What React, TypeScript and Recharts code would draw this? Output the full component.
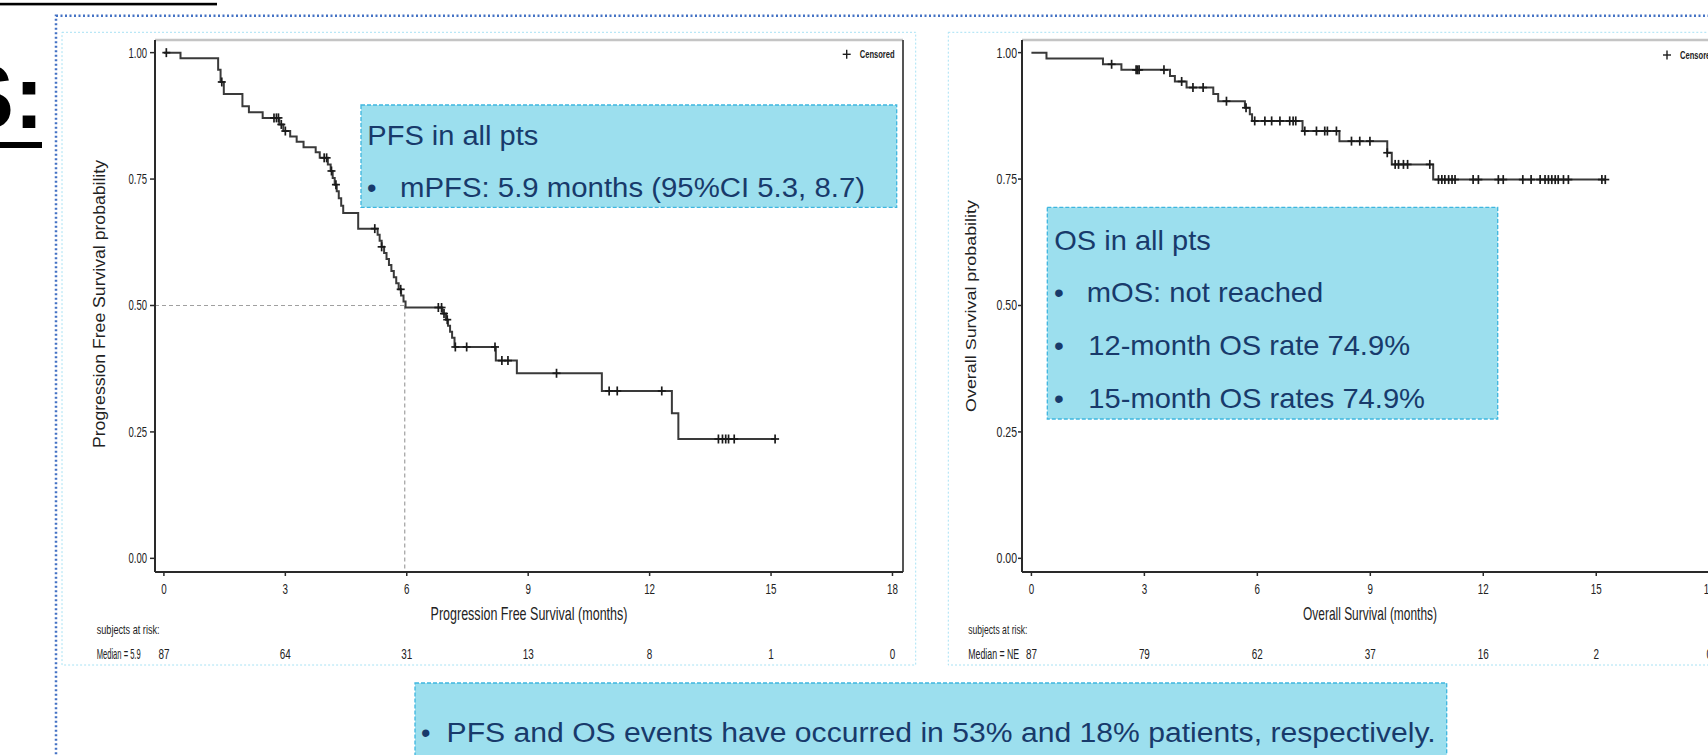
import React from 'react';
import { ComposedChart, Line, Scatter, XAxis, YAxis, ReferenceLine } from 'recharts';

type Step = [number, number];

const monthTicks = [0, 3, 6, 9, 12, 15, 18];
const survTicks = [0, 0.25, 0.5, 0.75, 1];

// Progression free survival: [month, survival probability after the step]
const pfsSteps: Step[] = [
  [0, 1.0], [0.41, 0.989], [1.34, 0.966], [1.4, 0.942], [1.48, 0.918], [1.94, 0.894],
  [2.1, 0.882], [2.44, 0.871], [2.85, 0.858], [2.95, 0.845], [3.12, 0.834], [3.28, 0.824],
  [3.45, 0.813], [3.75, 0.803], [3.85, 0.792], [4.05, 0.779], [4.12, 0.766], [4.17, 0.752],
  [4.22, 0.739], [4.27, 0.726], [4.32, 0.712], [4.38, 0.697], [4.43, 0.683], [4.8, 0.652],
  [5.28, 0.64], [5.33, 0.628], [5.38, 0.616], [5.44, 0.604], [5.5, 0.592], [5.56, 0.58],
  [5.62, 0.568], [5.68, 0.556], [5.74, 0.544], [5.8, 0.532], [5.86, 0.52], [5.92, 0.508],
  [5.97, 0.496], [6.88, 0.484], [6.97, 0.472], [7.02, 0.46], [7.07, 0.448], [7.12, 0.436],
  [7.18, 0.418], [8.2, 0.391], [8.72, 0.366], [10.82, 0.331], [12.55, 0.287], [12.71, 0.236],
  [15.1, 0.236],
];
const pfsCensored = [
  0.06, 1.43, 2.72, 2.78, 2.83, 2.9, 3.0, 3.96, 4.02, 4.14, 4.25, 5.21, 5.38, 5.85, 6.78, 6.86,
  6.92, 7.0, 7.2, 7.48, 8.18, 8.35, 8.5, 9.7, 11.0, 11.2, 12.3, 13.7, 13.8, 13.88, 13.95, 14.09, 15.1,
];
const pfsAtRisk = [87, 64, 31, 13, 8, 1, 0];
const pfsMedian = 5.95;

// Overall survival
const osSteps: Step[] = [
  [0, 1.0], [0.4, 0.9885], [1.9, 0.977], [2.39, 0.966], [3.68, 0.954], [3.81, 0.943],
  [4.12, 0.931], [4.83, 0.918], [4.96, 0.904], [5.67, 0.891], [5.8, 0.878], [5.86, 0.865],
  [7.2, 0.845], [8.18, 0.825], [9.45, 0.802], [9.57, 0.779], [10.67, 0.749], [15.24, 0.749],
];
const osCensored = [
  2.13, 2.78, 2.82, 2.86, 3.52, 3.99, 4.29, 4.56, 5.18, 5.7, 5.93, 6.2, 6.38, 6.6, 6.86, 6.95,
  7.02, 7.26, 7.57, 7.79, 7.86, 8.1, 8.5, 8.72, 8.99, 9.45, 9.66, 9.75, 9.88, 9.99, 10.58, 10.81,
  10.9, 10.98, 11.08, 11.17, 11.25, 11.73, 11.87, 12.4, 12.53, 13.05, 13.27, 13.51, 13.64, 13.73,
  13.82, 13.91, 13.99, 14.13, 14.26, 15.15, 15.24,
];
const osAtRisk = [87, 79, 62, 37, 16, 2, 0];

const X_MAX = 18.26;
const Y_MIN = -0.027;
const Y_MAX = 1.025;
const FONT = 'Liberation Sans, Arial, sans-serif';
const NAVY = '#183a6b';
const BOX_FILL = '#9cdfee';
const BOX_STROKE = '#3eb6df';

function survAt(steps: Step[], t: number) {
  let s = steps[0][1];
  for (const [st, sv] of steps) {
    if (st <= t) s = sv;
    else break;
  }
  return s;
}

// horizontally condensed text (SAS output look)
const ST = (p: any) => (
  <g transform={`translate(${p.x},${p.y}) scale(${p.sx},1)`}>
    <text x={0} y={0} fontSize={p.size} fill="#222" fontFamily={FONT} fontWeight={p.weight || 'normal'}
      textAnchor={p.anchor || 'start'}>
      {p.children}
    </text>
  </g>
);

const Plus = (props: any) => {
  const { cx, cy } = props;
  if (cx == null || cy == null) return null;
  return (
    <g stroke="#1a1a1a" strokeWidth={1.7}>
      <line x1={cx - 4} x2={cx + 4} y1={cy} y2={cy} />
      <line x1={cx} x2={cx} y1={cy - 4.5} y2={cy + 4.5} />
    </g>
  );
};

const YTick = (props: any) => {
  const { x, y, payload, sx } = props;
  return <ST x={x} y={y + 5} size={14} sx={sx} anchor="end">{Number(payload.value).toFixed(2)}</ST>;
};

const XTick = (props: any) => {
  const { x, y, payload } = props;
  return <ST x={x} y={y + 17.5} size={14} sx={0.7} anchor="middle">{payload.value}</ST>;
};

const RiskTick = (props: any) => {
  const { x, y, payload, atRisk } = props;
  const idx = monthTicks.indexOf(payload.value);
  return <ST x={x} y={y + 36.8} size={15} sx={0.66} anchor="middle">{idx >= 0 ? atRisk[idx] : ''}</ST>;
};

function KMChart(p: {
  steps: Step[];
  censored: number[];
  atRisk: number[];
  xMin: number;
  left: number;
  width: number;
  yAxisWidth: number;
  yTickSize: number;
  yTickMargin: number;
  ySx: number;
  median?: number;
}) {
  const lineData = p.steps.map(([t, s]) => ({ t, s }));
  const censorData = p.censored.map((t) => ({ t, s: survAt(p.steps, t) }));
  return (
    <div style={{ position: 'absolute', left: p.left, top: 32 }}>
      <ComposedChart width={p.width} height={633} data={lineData} margin={{ top: 8, right: 13, bottom: 0, left: 0 }}>
        <XAxis
          xAxisId="m"
          dataKey="t"
          type="number"
          domain={[p.xMin, X_MAX]}
          allowDataOverflow
          ticks={monthTicks}
          interval={0}
          height={50}
          tickSize={4}
          tickMargin={0}
          axisLine={{ stroke: '#2a2a2a', strokeWidth: 2 }}
          tickLine={{ stroke: '#2a2a2a', strokeWidth: 1.5 }}
          tick={(tp: any) => <XTick {...tp} />}
        />
        <XAxis
          xAxisId="risk"
          dataKey="t"
          type="number"
          domain={[p.xMin, X_MAX]}
          allowDataOverflow
          ticks={monthTicks}
          interval={0}
          height={43}
          tickSize={0}
          tickMargin={0}
          axisLine={false}
          tickLine={false}
          tick={(tp: any) => <RiskTick {...tp} atRisk={p.atRisk} />}
        />
        <YAxis
          yAxisId="s"
          type="number"
          domain={[Y_MIN, Y_MAX]}
          allowDataOverflow
          ticks={survTicks}
          interval={0}
          width={p.yAxisWidth}
          tickSize={p.yTickSize}
          tickMargin={p.yTickMargin}
          axisLine={{ stroke: '#2a2a2a', strokeWidth: 2 }}
          tickLine={{ stroke: '#2a2a2a', strokeWidth: 1.5 }}
          tick={(tp: any) => <YTick {...tp} sx={p.ySx} />}
        />
        <ReferenceLine xAxisId="m" yAxisId="s" y={Y_MAX} stroke="#c4c4c4" strokeWidth={2.5} />
        <ReferenceLine xAxisId="m" yAxisId="s" x={X_MAX} stroke="#555" strokeWidth={2} />
        {p.median != null && (
          <ReferenceLine
            xAxisId="m"
            yAxisId="s"
            segment={[{ x: p.xMin, y: 0.5 }, { x: p.median, y: 0.5 }]}
            stroke="#a0a0a0"
            strokeWidth={1.2}
            strokeDasharray="4 3"
          />
        )}
        {p.median != null && (
          <ReferenceLine
            xAxisId="m"
            yAxisId="s"
            segment={[{ x: p.median, y: 0.5 }, { x: p.median, y: Y_MIN }]}
            stroke="#a0a0a0"
            strokeWidth={1.2}
            strokeDasharray="4 3"
          />
        )}
        <Line
          xAxisId="m"
          yAxisId="s"
          dataKey="s"
          type="stepAfter"
          dot={false}
          activeDot={false}
          stroke="#3a3a3a"
          strokeWidth={2}
          isAnimationActive={false}
        />
        <Scatter
          xAxisId="m"
          yAxisId="s"
          data={censorData}
          dataKey="s"
          shape={(sp: any) => <Plus {...sp} />}
          isAnimationActive={false}
        />
      </ComposedChart>
    </div>
  );
}

const T = (p: any) => (
  <text
    x={p.x}
    y={p.y}
    fontSize={p.size}
    fill={p.fill || '#222'}
    fontFamily={p.family || FONT}
    fontWeight={p.weight || 'normal'}
    textAnchor={p.anchor || 'start'}
    textLength={p.len}
    lengthAdjust={p.len ? 'spacingAndGlyphs' : undefined}
  >
    {p.children}
  </text>
);

const VT = (p: any) => (
  <text
    transform={`translate(${p.x},${p.y}) rotate(-90)`}
    fontSize={p.size}
    fill="#222"
    fontFamily={FONT}
    textAnchor="middle"
    textLength={p.len}
    lengthAdjust="spacingAndGlyphs"
  >
    {p.children}
  </text>
);

const Legend = ({ x, y }: { x: number; y: number }) => (
  <g>
    <g stroke="#1e1e1e" strokeWidth={1.4}>
      <line x1={x - 4} x2={x + 4} y1={y} y2={y} />
      <line x1={x} x2={x} y1={y - 4.5} y2={y + 4.5} />
    </g>
    <ST x={x + 13} y={y + 3.5} size={11} sx={0.69} weight="bold">Censored</ST>
  </g>
);

export default function App() {
  return (
    <div style={{ position: 'absolute', left: 0, top: 0, width: 1708, height: 755, overflow: 'hidden', background: '#fff' }}>
      <svg width={1708} height={755} style={{ position: 'absolute', left: 0, top: 0 }}>
        <rect x={56} y={15.7} width={1700} height={800} fill="none" stroke="#4472c4" strokeWidth={2.5} strokeDasharray="2 2.5" />
        <rect x={62} y={32.3} width={853.7} height={632.7} fill="none" stroke="#a8e2f4" strokeWidth={1} strokeDasharray="2 2" />
        <rect x={948.3} y={32.3} width={800} height={632.7} fill="none" stroke="#a8e2f4" strokeWidth={1} strokeDasharray="2 2" />
      </svg>

      <KMChart
        steps={pfsSteps}
        censored={pfsCensored}
        atRisk={pfsAtRisk}
        xMin={-0.22}
        left={62}
        width={854}
        yAxisWidth={93}
        yTickSize={5}
        yTickMargin={3}
        ySx={0.68}
        median={pfsMedian}
      />
      <KMChart
        steps={osSteps}
        censored={osCensored}
        atRisk={osAtRisk}
        xMin={-0.25}
        left={948}
        width={784}
        yAxisWidth={74}
        yTickSize={4}
        yTickMargin={1}
        ySx={0.75}
      />

      <svg width={1708} height={755} style={{ position: 'absolute', left: 0, top: 0, pointerEvents: 'none' }}>
        {/* slide title fragment */}
        <rect x={0} y={2.8} width={217} height={2.6} fill="#000" />
        <T x={-46} y={128} size={90} weight="bold" fill="#000">S:</T>
        <rect x={0} y={142} width={42} height={6} fill="#000" />

        {/* axis titles */}
        <VT x={105} y={304} size={17} len={288}>Progression Free Survival probability</VT>
        <VT x={976} y={306} size={15} len={212}>Overall Survival probability</VT>
        <ST x={529} y={620} size={18} sx={0.696} anchor="middle">Progression Free Survival (months)</ST>
        <ST x={1370} y={620} size={18} sx={0.663} anchor="middle">Overall Survival (months)</ST>

        {/* at-risk captions */}
        <ST x={96.7} y={634} size={13} sx={0.703}>subjects at risk:</ST>
        <ST x={96.7} y={658.5} size={15} sx={0.505}>Median = 5.9</ST>
        <ST x={968.3} y={634} size={13} sx={0.66}>subjects at risk:</ST>
        <ST x={968.3} y={658.5} size={15} sx={0.585}>Median = NE</ST>

        {/* legends */}
        <Legend x={846.7} y={54.3} />
        <Legend x={1667} y={55} />

        {/* PFS box */}
        <rect x={361} y={105} width={535.7} height={102.3} fill={BOX_FILL} stroke={BOX_STROKE} strokeWidth={1.3} strokeDasharray="4 2" />
        <T x={367.3} y={145} size={27} len={171} fill={NAVY}>PFS in all pts</T>
        <T x={367} y={196.7} size={27} fill={NAVY}>•</T>
        <T x={400} y={196.7} size={27} len={465} fill={NAVY}>mPFS: 5.9 months (95%CI 5.3, 8.7)</T>

        {/* OS box */}
        <rect x={1047.3} y={207.3} width={450.4} height={211.7} fill={BOX_FILL} stroke={BOX_STROKE} strokeWidth={1.3} strokeDasharray="4 2" />
        <T x={1054.3} y={250} size={28} len={156.4} fill={NAVY}>OS in all pts</T>
        <T x={1054} y={301.7} size={28} fill={NAVY}>•</T>
        <T x={1086.7} y={301.7} size={28} len={236.6} fill={NAVY}>mOS: not reached</T>
        <T x={1054} y={355} size={28} fill={NAVY}>•</T>
        <T x={1088.3} y={355} size={28} len={321.7} fill={NAVY}>12-month OS rate 74.9%</T>
        <T x={1054} y={408.3} size={28} fill={NAVY}>•</T>
        <T x={1088.3} y={408.3} size={28} len={336.7} fill={NAVY}>15-month OS rates 74.9%</T>

        {/* bottom box */}
        <rect x={415} y={683} width={1031.7} height={100} fill={BOX_FILL} stroke={BOX_STROKE} strokeWidth={1.3} strokeDasharray="4 2" />
        <T x={421} y={742} size={27} fill={NAVY}>•</T>
        <T x={446.6} y={742} size={27} len={989} fill={NAVY}>PFS and OS events have occurred in 53% and 18% patients, respectively.</T>
      </svg>
    </div>
  );
}
